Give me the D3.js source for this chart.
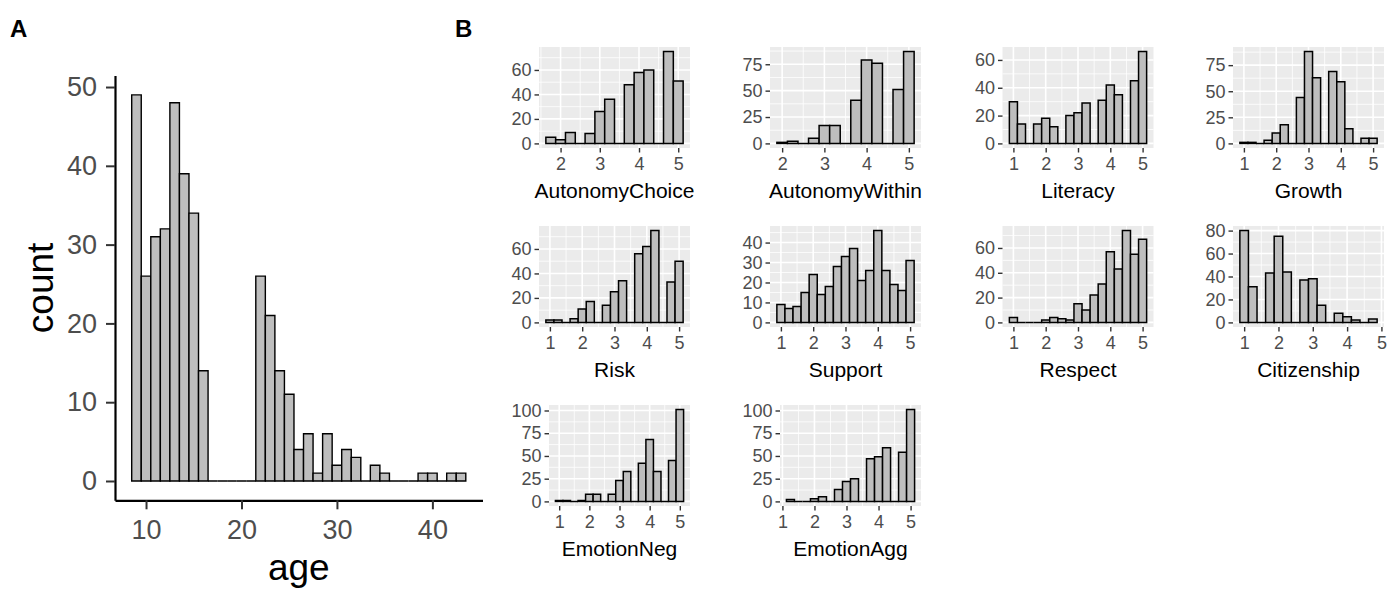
<!doctype html>
<html lang="en">
<head>
<meta charset="UTF-8">
<title>Age and scale histograms</title>
<script src="https://d3js.org/d3.v7.min.js"></script>
<style>
body { margin: 0; background: #ffffff; font-family: "Liberation Sans", Arial, sans-serif; }
svg { display: block; }
.axis text { fill: #4d4d4d; font-family: "Liberation Sans", Arial, sans-serif; }
.axis line { stroke: #333333; }
.bar { stroke: #000000; fill: #bebebe; }
</style>
</head>
<body>
<div id="plot"></div>
<script>

// panel A: age, one-year bins centred on whole years
var ageFirst = 9;
var ageCounts = [49, 26, 31, 32, 48, 39, 34, 14, 0, 0, 0, 0, 0, 26, 21, 14, 11, 4, 6, 1, 6, 2, 4, 3, 0, 2, 1, 0, 0, 0, 1, 1, 0, 1, 1];
var ageTicksX = [10, 20, 30, 40];
var ageTicksY = [0, 10, 20, 30, 40, 50];

// panel B: scale scores, bins of 0.25
var binWidth = 0.25;
var scaleNames = ["AutonomyChoice", "AutonomyWithin", "Literacy", "Growth", "Risk", "Support", "Respect", "Citizenship", "EmotionNeg", "EmotionAgg"];
var firstBin = [1.75, 2, 1, 1, 1, 1, 1, 1, 1, 1.25];

var autonomyChoice = [5, 3, 9, 0, 8, 26, 36, 0, 48, 58, 60, 0, 75, 51];
var autonomyWithin = [1, 2, 0, 5, 17, 17, 0, 41, 79, 76, 0, 51, 87];
var literacy = [30, 14, 0, 14, 18, 12, 0, 20, 22, 29, 0, 31, 42, 35, 0, 45, 66];
var growth = [1, 1, 0, 3, 10, 18, 0, 44, 88, 63, 0, 69, 59, 14, 0, 5, 5];
var risk = [2, 2, 0, 3, 11, 17, 0, 14, 25, 34, 0, 56, 62, 75, 0, 33, 50];
var support = [9, 7, 8, 15, 24, 14, 18, 28, 33, 37, 21, 26, 46, 26, 19, 16, 31];
var respect = [4, 0, 0, 0, 2, 4, 3, 2, 15, 10, 22, 31, 57, 43, 74, 55, 67];
var citizenship = [80, 31, 0, 43, 75, 44, 0, 37, 38, 15, 0, 8, 5, 2, 0, 3];
var emotionNeg = [1, 1, 0, 1, 8, 8, 0, 8, 23, 33, 0, 42, 68, 33, 0, 45, 101];
var emotionAgg = [2, 0, 0, 3, 5, 0, 13, 22, 25, 0, 47, 49, 59, 0, 54, 101];

var xTicksB = [[2, 3, 4, 5], [2, 3, 4, 5], [1, 2, 3, 4, 5], [1, 2, 3, 4, 5], [1, 2, 3, 4, 5],
	[1, 2, 3, 4, 5], [1, 2, 3, 4, 5], [1, 2, 3, 4, 5], [1, 2, 3, 4, 5], [1, 2, 3, 4, 5]];
var yTicksB = [[0, 20, 40, 60], [0, 25, 50, 75], [0, 20, 40, 60], [0, 25, 50, 75], [0, 20, 40, 60],
	[0, 10, 20, 30, 40], [0, 20, 40, 60], [0, 20, 40, 60, 80], [0, 25, 50, 75, 100], [0, 25, 50, 75, 100]];

var countsB = [autonomyChoice, autonomyWithin, literacy, growth, risk, support, respect, citizenship, emotionNeg, emotionAgg];

var width = 1395;
var height = 589;

var svg = d3.select("#plot").append("svg")
	.attr("width", width)
	.attr("height", height);

function barPath(x0, x1, y0, y1) {
	return "M" + x0 + "," + y0 + "H" + x1 + "V" + y1 + "H" + x0 + "Z";
}

function textWidth(str, size) {
	var t = svg.append("text").style("font-size", size + "px")
		.style("font-family", "'Liberation Sans', Arial, sans-serif").text(str);
	var w = t.node().getComputedTextLength();
	t.remove();
	return w;
}

// ---------- panel A ----------
var aLo = ageFirst - 0.5, aHi = ageFirst + ageCounts.length - 0.5;
var aPad = (aHi - aLo) * 0.05;
var ageMax = d3.max(ageCounts);

var ax = d3.scaleLinear().domain([aLo - aPad, aHi + aPad]).range([115, 482.5]);
var ay = d3.scaleLinear().domain([-ageMax * 0.05, ageMax * 1.05]).range([500.3, 75.6]);

var gA = svg.append("g");

ageCounts.forEach(function (c, i) {
	var mid = ageFirst + i;
	gA.append("path")
		.attr("class", "bar")
		.attr("d", barPath(ax(mid - 0.5), ax(mid + 0.5), ay(0), ay(c)))
		.style("stroke-width", 1.4);
});

var axA = gA.append("g")
	.attr("class", "axis")
	.attr("transform", "translate(0," + ay.range()[0] + ")")
	.call(d3.axisBottom(ax).tickValues(ageTicksX).tickFormat(d3.format("d"))
		.tickSize(9).tickSizeOuter(0).tickPadding(11));
var ayA = gA.append("g")
	.attr("class", "axis")
	.attr("transform", "translate(" + ax.range()[0] + ",0)")
	.call(d3.axisLeft(ay).tickValues(ageTicksY).tickFormat(d3.format("d"))
		.tickSize(9).tickSizeOuter(0).tickPadding(9));

[axA, ayA].forEach(function (g) {
	g.select(".domain").style("stroke", "#000").style("stroke-width", 2.2);
	g.selectAll(".tick line").style("stroke-width", 2);
	g.selectAll(".tick text").style("font-size", "27px");
});

gA.append("text")
	.attr("x", (ax.range()[0] + ax.range()[1]) / 2)
	.attr("y", 580)
	.attr("text-anchor", "middle")
	.style("font-size", "37px")
	.text("age");

gA.append("text")
	.attr("transform", "translate(53," + (ay.range()[0] + ay.range()[1]) / 2 + ") rotate(-90)")
	.attr("text-anchor", "middle")
	.style("font-size", "37px")
	.text("count");

svg.append("text").attr("x", 10).attr("y", 37)
	.style("font-size", "24px").style("font-weight", "bold").text("A");
svg.append("text").attr("x", 455).attr("y", 37)
	.style("font-size", "24px").style("font-weight", "bold").text("B");

// ---------- panel B ----------
var colRight = [690, 921, 1153.5, 1384];
var rowTop = [47, 226, 405];
var panelH = 101;
var tickFont = 18;
var twoDigit = textWidth("00", tickFont);

function minorBreaks(major, lo, hi) {
	var step = major[1] - major[0];
	var b = [major[0] - step].concat(major, [major[major.length - 1] + step]);
	var out = [];
	for (var i = 0; i < b.length - 1; i++) {
		var m = (b[i] + b[i + 1]) / 2;
		if (m >= lo && m <= hi) out.push(m);
	}
	return out;
}

scaleNames.forEach(function (name, p) {
	var col = p % 4, row = Math.floor(p / 4);
	var counts = countsB[p];
	var first = firstBin[p];
	var yTicks = yTicksB[p], xTicks = xTicksB[p];

	var maxLabel = d3.max(yTicks, function (t) { return textWidth(String(t), tickFont); });
	var left = colRight[col] - 151 + (maxLabel - twoDigit);
	var right = colRight[col];
	var top = rowTop[row], bottom = rowTop[row] + panelH;

	var lo = first - binWidth / 2, hi = first + (counts.length - 0.5) * binWidth;
	var pad = (hi - lo) * 0.05;
	var cMax = d3.max(counts);

	var xs = d3.scaleLinear().domain([lo - pad, hi + pad]).range([left, right]);
	var ys = d3.scaleLinear().domain([-cMax * 0.05, cMax * 1.05]).range([bottom, top]);

	var g = svg.append("g");

	g.append("rect")
		.attr("x", left).attr("y", top)
		.attr("width", right - left).attr("height", bottom - top)
		.style("fill", "#ebebeb");

	minorBreaks(xTicks, xs.domain()[0], xs.domain()[1]).forEach(function (v) {
		g.append("line").attr("x1", xs(v)).attr("x2", xs(v)).attr("y1", top).attr("y2", bottom)
			.style("stroke", "#fff").style("stroke-width", 0.8);
	});
	minorBreaks(yTicks, ys.domain()[0], ys.domain()[1]).forEach(function (v) {
		g.append("line").attr("x1", left).attr("x2", right).attr("y1", ys(v)).attr("y2", ys(v))
			.style("stroke", "#fff").style("stroke-width", 0.8);
	});
	xTicks.forEach(function (v) {
		g.append("line").attr("x1", xs(v)).attr("x2", xs(v)).attr("y1", top).attr("y2", bottom)
			.style("stroke", "#fff").style("stroke-width", 1.6);
	});
	yTicks.forEach(function (v) {
		g.append("line").attr("x1", left).attr("x2", right).attr("y1", ys(v)).attr("y2", ys(v))
			.style("stroke", "#fff").style("stroke-width", 1.6);
	});

	counts.forEach(function (c, i) {
		var mid = first + i * binWidth;
		g.append("path")
			.attr("class", "bar")
			.attr("d", barPath(xs(mid - binWidth / 2), xs(mid + binWidth / 2), ys(0), ys(c)))
			.style("stroke-width", 1.5);
	});

	var gx = g.append("g")
		.attr("class", "axis")
		.attr("transform", "translate(0," + bottom + ")")
		.call(d3.axisBottom(xs).tickValues(xTicks).tickFormat(d3.format("d")).tickSize(4.5).tickPadding(5));
	var gy = g.append("g")
		.attr("class", "axis")
		.attr("transform", "translate(" + left + ",0)")
		.call(d3.axisLeft(ys).tickValues(yTicks).tickFormat(d3.format("d")).tickSize(4.5).tickPadding(3));

	[gx, gy].forEach(function (a) {
		a.select(".domain").remove();
		a.selectAll(".tick line").style("stroke-width", 1.4);
		a.selectAll(".tick text").style("font-size", tickFont + "px");
	});

	g.append("text")
		.attr("x", (left + right) / 2)
		.attr("y", bottom + 49.5)
		.attr("text-anchor", "middle")
		.style("font-size", "21px")
		.text(name);
});

</script>
</body>
</html>
